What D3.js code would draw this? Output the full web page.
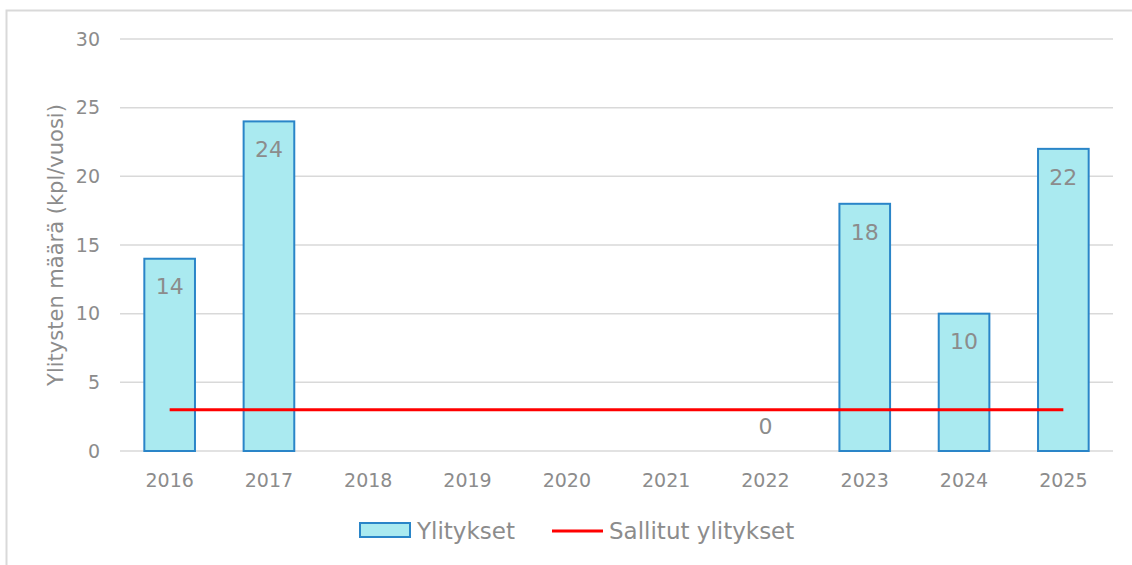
<!DOCTYPE html>
<html>
<head lang="fi">
	<meta charset="UTF-8">
	<title>Ylitykset</title>
	<style>
	body { margin: 0; background: #fff; }
	text { font-family: "DejaVu Sans", sans-serif; fill: #8c8c8c; }
	.grid line { stroke: #d9d9d9; stroke-width: 1.5; }
	.bar { fill: #aaeaf0; stroke: #2a85c8; stroke-width: 2; }
	.limit { fill: none; stroke: #ff0000; stroke-width: 3; }
	</style>
	<script src="https://cdn.jsdelivr.net/npm/d3@7"></script>
</head>
<body>
<script>
	// data (null = no bar, no label)
	var years = ["2016","2017","2018","2019","2020","2021","2022","2023","2024","2025"];
	var ylitykset = [14, 24, null, null, null, null, 0, 18, 10, 22];
	var sallitut = [3, 3, 3, 3, 3, 3, 3, 3, 3, 3];
	var yTicks = [0, 5, 10, 15, 20, 25, 30];

	var width = 1132, height = 565;
	var plot = {left: 120, right: 1113, top: 39, bottom: 451};

	var svg = d3.select("body").append("svg")
		.attr("width", width)
		.attr("height", height);

	// chart frame
	svg.append("rect")
		.attr("x", 6.5).attr("y", 10.5)
		.attr("width", width + 10).attr("height", height)
		.attr("fill", "none")
		.attr("stroke", "#d9d9d9")
		.attr("stroke-width", 2);

	var x = d3.scaleBand()
		.domain(years)
		.range([plot.left, plot.right])
		.paddingInner(0.49)
		.paddingOuter(0.245);

	var y = d3.scaleLinear()
		.domain([0, 30])
		.range([plot.bottom, plot.top]);

	// gridlines
	svg.append("g").attr("class", "grid")
		.selectAll("line")
		.data(yTicks)
		.enter().append("line")
		.attr("x1", plot.left).attr("x2", plot.right)
		.attr("y1", function(d){ return y(d); })
		.attr("y2", function(d){ return y(d); });

	// y tick labels
	svg.append("g")
		.selectAll("text")
		.data(yTicks)
		.enter().append("text")
		.attr("x", 100)
		.attr("y", function(d){ return y(d); })
		.attr("dy", "0.35em")
		.attr("text-anchor", "end")
		.style("font-size", "19px")
		.text(function(d){ return d; });

	// x labels
	svg.append("g")
		.selectAll("text")
		.data(years)
		.enter().append("text")
		.attr("x", function(d){ return x(d) + x.bandwidth() / 2; })
		.attr("y", 480)
		.attr("dy", "0.35em")
		.attr("text-anchor", "middle")
		.style("font-size", "19px")
		.text(function(d){ return d; });

	// y axis title
	svg.append("text")
		.attr("transform", "translate(56,245)rotate(-90)")
		.attr("dy", "0.35em")
		.attr("text-anchor", "middle")
		.style("font-size", "21px")
		.text("Ylitysten määrä (kpl/vuosi)");

	var rows = years.map(function(d, i){ return {year: d, v: ylitykset[i], lim: sallitut[i]}; });

	// bars
	svg.append("g")
		.selectAll("rect")
		.data(rows.filter(function(d){ return d.v !== null && d.v > 0; }))
		.enter().append("rect")
		.attr("class", "bar")
		.attr("x", function(d){ return x(d.year); })
		.attr("width", x.bandwidth())
		.attr("y", function(d){ return y(d.v); })
		.attr("height", function(d){ return y(0) - y(d.v); });

	// red limit line
	var line = d3.line()
		.x(function(d){ return x(d.year) + x.bandwidth() / 2; })
		.y(function(d){ return y(d.lim); });
	svg.append("path")
		.datum(rows)
		.attr("class", "limit")
		.attr("d", line);

	// value labels, inside top of bar
	svg.append("g")
		.selectAll("text")
		.data(rows.filter(function(d){ return d.v !== null; }))
		.enter().append("text")
		.attr("x", function(d){ return x(d.year) + x.bandwidth() / 2; })
		.attr("y", function(d){ return d.v > 0 ? y(d.v) + 28 : y(0) - 25; })
		.attr("dy", "0.35em")
		.attr("text-anchor", "middle")
		.style("font-size", "22px")
		.text(function(d){ return d.v; });

	// legend
	var lg = svg.append("g");
	lg.append("rect").attr("class", "bar")
		.attr("x", 360).attr("y", 523).attr("width", 50).attr("height", 14);
	lg.append("text").attr("x", 417).attr("y", 531).attr("dy", "0.35em")
		.style("font-size", "23px").text("Ylitykset");
	lg.append("line").attr("class", "limit")
		.attr("x1", 552).attr("x2", 603).attr("y1", 531).attr("y2", 531);
	lg.append("text").attr("x", 609).attr("y", 531).attr("dy", "0.35em")
		.style("font-size", "23px").text("Sallitut ylitykset");
</script>
</body>
</html>
